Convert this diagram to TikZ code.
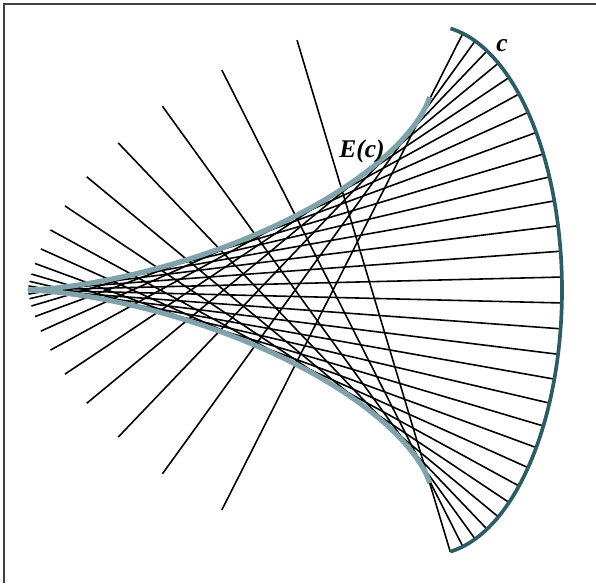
\documentclass[tikz,border=0pt]{standalone}
\usepackage{fontspec}
\setmainfont{Liberation Serif}
\definecolor{arccol}{RGB}{44,92,100}
\definecolor{evocol}{RGB}{128,162,170}
\begin{document}
\begin{tikzpicture}[x=0.02cm,y=-0.02cm,
  % one pixel of the reference is one unit
  frame/.style={draw=black!75,line width=0.9pt},
  curve/.style={draw=arccol,line width=2.1pt},
  evolute/.style={draw=evocol,line width=2.9pt},
  normal/.style={draw=black,line width=0.9pt},
  lbl/.style={font=\fontsize{14.5}{17}\selectfont\bfseries\itshape,inner sep=0pt}
]
\useasboundingbox (0,0) rectangle (596,583);

\draw[frame] (4,583) -- (4,4) -- (596,4);

% normals of the arc, length 534
\foreach \k in {-15,...,13}{
  \pgfmathsetmacro{\t}{(\k+0.5)*pi/32}
  \pgfmathsetmacro{\px}{431+131*cos(\t r)}
  \pgfmathsetmacro{\py}{290-264.5*sin(\t r)}
  \pgfmathsetmacro{\nx}{-2.645*cos(\t r)}
  \pgfmathsetmacro{\ny}{1.31*sin(\t r)}
  \pgfmathsetmacro{\nl}{veclen(\nx,\ny)}
  \coordinate (p\k) at (\px,\py);
  \coordinate (q\k) at ({\px+534*\nx/\nl},{\py+534*\ny/\nl});
  \draw[normal] (p\k) -- (q\k);
}

% envelope E(c)
\draw[evolute] plot[domain=-1.4235:1.4235,samples=120,variable=\t]
  ({431-403*cos(\t r)*cos(\t r)*cos(\t r)},{290-199.6*sin(\t r)*sin(\t r)*sin(\t r)});

% the curve c
\draw[curve] plot[domain=-1.4235:1.4235,samples=120,variable=\t]
  ({431+131*cos(\t r)},{290-264.5*sin(\t r)});

\node[lbl] (labc) at (502,46) {c};
\node[lbl] (labE) at (362,151) {E(c)};

\end{tikzpicture}
\end{document}
